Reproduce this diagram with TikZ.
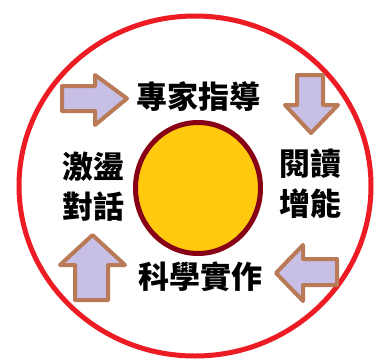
\documentclass[tikz,border=0pt]{standalone}
\usepackage{fontspec}
\usetikzlibrary{shapes.geometric}
\newfontfamily\cjk{Noto Sans CJK TC}
\definecolor{ringred}{HTML}{ED1C24}
\definecolor{arrowbrown}{HTML}{B97A57}
\definecolor{lavender}{HTML}{C8BFE7}
\definecolor{sunyellow}{HTML}{FFC90E}
\definecolor{darkred}{HTML}{880015}
\begin{document}
\begin{tikzpicture}[x=1pt,y=-1pt,
  blockarrow/.style={draw=arrowbrown,fill=lavender,line width=4pt,line join=round},
  label/.style={font=\cjk\bfseries\fontsize{31}{40}\selectfont,inner sep=0pt,align=center,text=black}]
\useasboundingbox (0,0) rectangle (375,359);
\fill[white] (0,0) rectangle (375,359);
\draw[ringred,line width=5pt] (195,186) ellipse [x radius=176, y radius=170];
\node[draw=darkred,fill=sunyellow,line width=5pt,ellipse,minimum width=125pt,minimum height=131pt,inner sep=0pt] (sun) at (198,188) {};
% arrows
\draw[blockarrow] (62,86) -- (95,86) -- (95,75) -- (127,98.5) -- (95,125) -- (95,111) -- (62,111) -- cycle;
\draw[blockarrow] (297,75) -- (323,75) -- (323,105) -- (338,105) -- (311,133) -- (285,105) -- (297,105) -- cycle;
\draw[blockarrow] (337,259) -- (303,259) -- (303,245) -- (276,273) -- (303,301) -- (303,285) -- (337,285) -- cycle;
\draw[blockarrow] (75,300) -- (75,265) -- (60,265) -- (92.5,235) -- (125,265) -- (108,265) -- (108,300) -- cycle;
% labels
\node[label] (top) at (198,97) {專家指導};
\node[label] (right) at (310,183.5) {閱讀\\增能};
\node[label] (bottom) at (200,277) {科學實作};
\node[label] (left) at (93,186.5) {激盪\\對話};
\end{tikzpicture}
\end{document}
